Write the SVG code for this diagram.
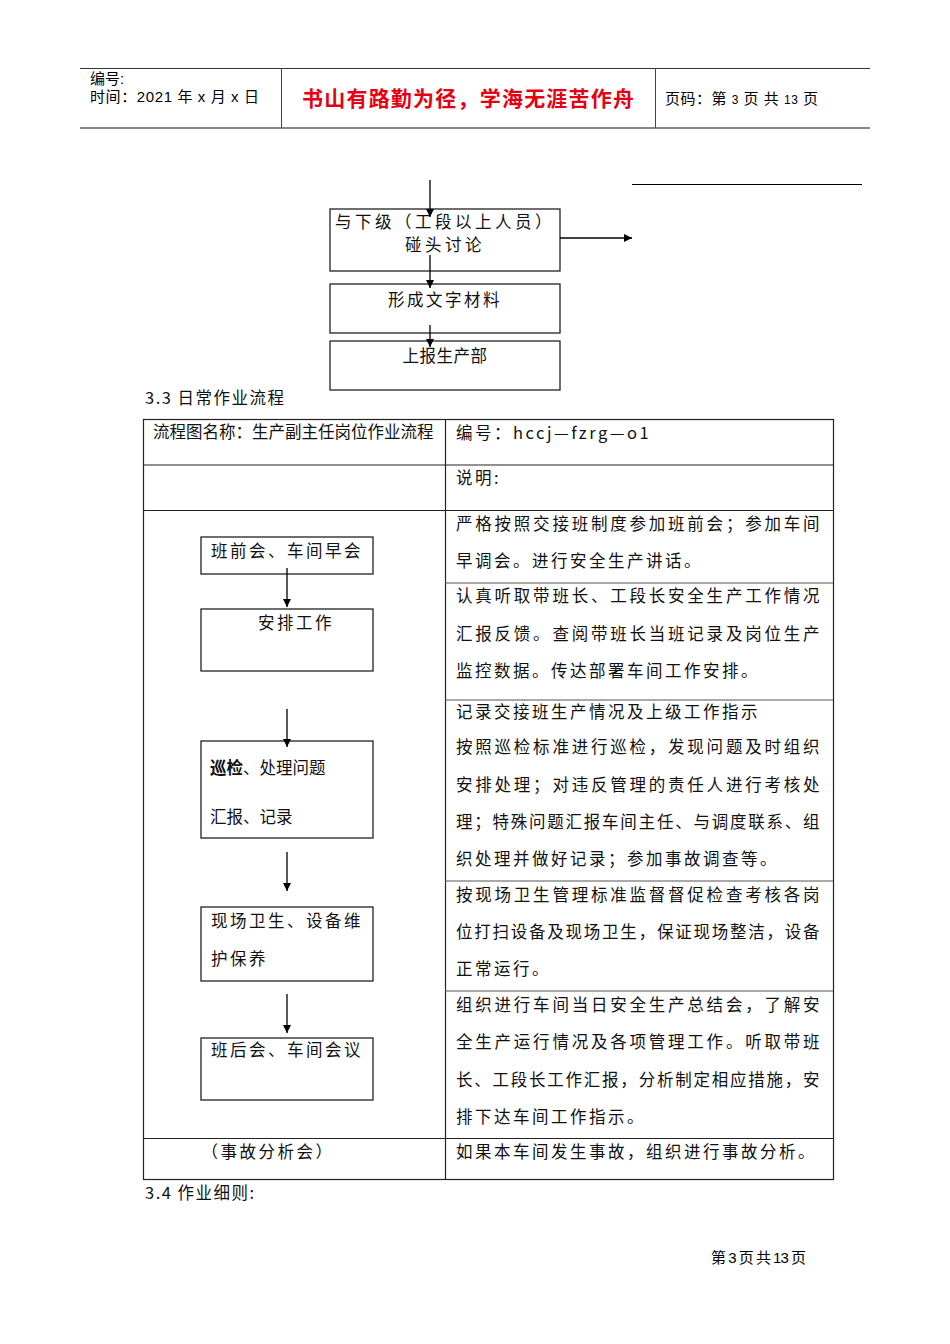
<svg xmlns="http://www.w3.org/2000/svg" width="950" height="1344" viewBox="0 0 950 1344">
<defs>
<style>
.hd{font-family:"Liberation Sans","Noto Sans CJK SC",sans-serif;font-size:15px;fill:#000}
.red{font-family:"Noto Sans CJK SC",sans-serif;font-size:21px;font-weight:bold;fill:#e60012}
.t{font-family:"Noto Sans CJK SC",sans-serif;font-size:16.5px;fill:#111;letter-spacing:2.5px}
.box{fill:#fff;stroke:#222;stroke-width:1.3}
.ln{stroke:#222;stroke-width:1.2;fill:none}
.gl{stroke:#555;stroke-width:1;fill:none}
.con{stroke:#000;stroke-width:1.3;fill:none;marker-end:url(#ah)}
</style>
<marker id="ah" viewBox="0 0 10 10" refX="10" refY="5" markerWidth="8" markerHeight="8" markerUnits="userSpaceOnUse" orient="auto">
<path d="M0,0 L10,5 L0,10 z" fill="#000"/>
</marker>
</defs>
<rect width="950" height="1344" fill="#fff"/>

<g id="header">
<line x1="80" y1="68.5" x2="870" y2="68.5" stroke="#333" stroke-width="1"/>
<line x1="80" y1="128" x2="870" y2="128" stroke="#888" stroke-width="2"/>
<line x1="281.5" y1="68" x2="281.5" y2="128" stroke="#444" stroke-width="1"/>
<line x1="655.5" y1="68" x2="655.5" y2="128" stroke="#444" stroke-width="1"/>
<text class="hd" x="90" y="84">编号:</text>
<text class="hd" x="90" y="102" textLength="169">时间：2021 年 x 月 x 日</text>
<text class="red" x="468" y="106" text-anchor="middle" textLength="332">书山有路勤为径，学海无涯苦作舟</text>
<text class="hd" x="665" y="104" textLength="153">页码：第 <tspan font-size="12">3</tspan> 页 共 <tspan font-size="12">13</tspan> 页</text>
</g>

<line x1="632" y1="184.5" x2="862" y2="184.5" stroke="#000" stroke-width="1.2"/>

<g id="n1"><rect class="box" x="330" y="209" width="230" height="62"/>
<text class="t" x="445" y="228" text-anchor="middle" font-size="15" style="letter-spacing:3.5px">与下级（工段以上人员）</text>
<text class="t" x="445" y="251" text-anchor="middle" font-size="15" style="letter-spacing:3.5px">碰头讨论</text></g>
<g id="n2"><rect class="box" x="330" y="284" width="230" height="49"/>
<text class="t" x="445" y="306" text-anchor="middle">形成文字材料</text></g>
<g id="n3"><rect class="box" x="330" y="341" width="230" height="49"/>
<text class="t" x="445" y="362" text-anchor="middle" fill="#444" style="letter-spacing:0.5px">上报生产部</text></g>

<text class="t" x="145" y="404" style="letter-spacing:1.5px">3.3 日常作业流程</text>

<g id="table">
<rect class="ln" x="143.5" y="419.5" width="690" height="760"/>
<line class="ln" x1="143" y1="465" x2="833" y2="465"/>
<line class="ln" x1="143" y1="510.5" x2="833" y2="510.5"/>
<line class="ln" x1="143" y1="1138.5" x2="833" y2="1138.5"/>
<line class="ln" x1="445.5" y1="419" x2="445.5" y2="1179"/>
<line class="gl" x1="445" y1="583" x2="833" y2="583"/>
<line class="gl" x1="445" y1="700" x2="833" y2="700"/>
<line class="gl" x1="445" y1="881" x2="833" y2="881"/>
<line class="gl" x1="445" y1="991" x2="833" y2="991"/>
<text class="t" x="153" y="438" style="letter-spacing:0" font-size="15.5">流程图名称：生产副主任岗位作业流程</text>
<text class="t" x="456" y="439">编号：hccj—fzrg—o1</text>
<text class="t" x="456" y="484">说明:</text>
<text class="t" x="456" y="530" textLength="366">严格按照交接班制度参加班前会；参加车间</text>
<text class="t" x="456" y="567">早调会。进行安全生产讲话。</text>
<text class="t" x="456" y="602" textLength="366">认真听取带班长、工段长安全生产工作情况</text>
<text class="t" x="456" y="640" textLength="366">汇报反馈。查阅带班长当班记录及岗位生产</text>
<text class="t" x="456" y="677">监控数据。传达部署车间工作安排。</text>
<text class="t" x="456" y="718">记录交接班生产情况及上级工作指示</text>
<text class="t" x="456" y="753" textLength="366">按照巡检标准进行巡检，发现问题及时组织</text>
<text class="t" x="456" y="791" textLength="366">安排处理；对违反管理的责任人进行考核处</text>
<text class="t" x="456" y="828" textLength="366">理；特殊问题汇报车间主任、与调度联系、组</text>
<text class="t" x="456" y="865">织处理并做好记录；参加事故调查等。</text>
<text class="t" x="456" y="901" textLength="366">按现场卫生管理标准监督督促检查考核各岗</text>
<text class="t" x="456" y="938" textLength="366">位打扫设备及现场卫生，保证现场整洁，设备</text>
<text class="t" x="456" y="975">正常运行。</text>
<text class="t" x="456" y="1011" textLength="366">组织进行车间当日安全生产总结会，了解安</text>
<text class="t" x="456" y="1048" textLength="366">全生产运行情况及各项管理工作。听取带班</text>
<text class="t" x="456" y="1086" textLength="366">长、工段长工作汇报，分析制定相应措施，安</text>
<text class="t" x="456" y="1123">排下达车间工作指示。</text>
<text class="t" x="268" y="1158" text-anchor="middle">（事故分析会）</text>
<text class="t" x="456" y="1158">如果本车间发生事故，组织进行事故分析。</text>
</g>

<g id="a"><rect class="box" x="201" y="537" width="172" height="37"/>
<text class="t" x="211" y="557">班前会、车间早会</text></g>
<g id="b"><rect class="box" x="201" y="609" width="172" height="62"/>
<text class="t" x="296" y="629" text-anchor="middle">安排工作</text></g>
<g id="c"><rect class="box" x="201" y="741" width="172" height="97"/>
<text class="t" x="210" y="774" style="letter-spacing:0"><tspan font-weight="bold">巡检</tspan>、处理问题</text>
<text class="t" x="210" y="823" style="letter-spacing:0">汇报、记录</text></g>
<g id="d"><rect class="box" x="201" y="907" width="172" height="74"/>
<text class="t" x="211" y="927">现场卫生、设备维</text>
<text class="t" x="211" y="965">护保养</text></g>
<g id="e"><rect class="box" x="201" y="1038" width="172" height="62"/>
<text class="t" x="211" y="1056">班后会、车间会议</text></g>

<g id="connectors">
<line class="con" x1="430" y1="180" x2="430" y2="217"/>
<line class="con" x1="430" y1="255" x2="430" y2="288"/>
<line class="con" x1="430" y1="325" x2="430" y2="347"/>
<line class="con" x1="560" y1="238" x2="632" y2="238"/>
<line class="con" x1="287" y1="568" x2="287" y2="607"/>
<line class="con" x1="287" y1="709" x2="287" y2="747"/>
<line class="con" x1="287" y1="852" x2="287" y2="891"/>
<line class="con" x1="287" y1="994" x2="287" y2="1033"/>
</g>

<text class="t" x="145" y="1199" style="letter-spacing:1.5px">3.4 作业细则:</text>
<text class="hd" x="711" y="1263" font-size="13" fill="#333" textLength="95">第 3 页 共 13 页</text>
</svg>
